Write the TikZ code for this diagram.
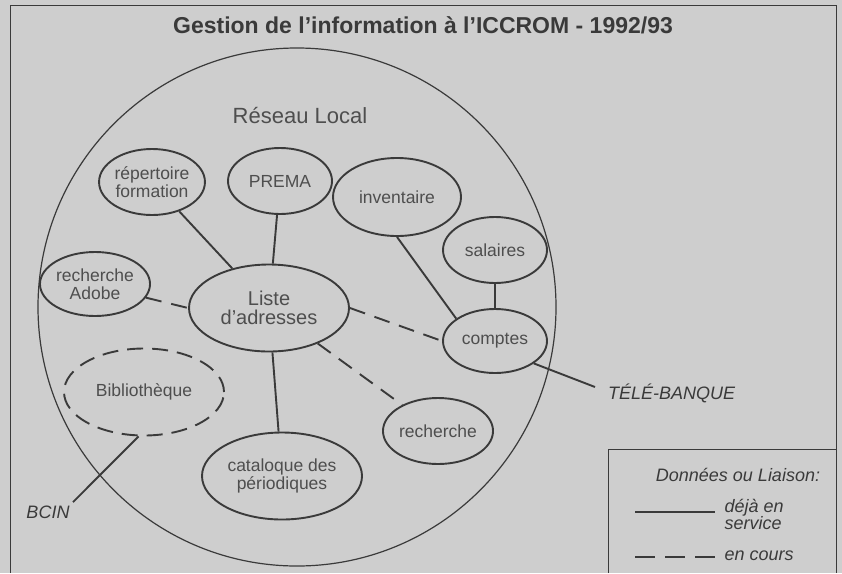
\documentclass[tikz,border=0pt]{standalone}
\usepackage{fontspec}
\setmainfont{Liberation Sans}
\usetikzlibrary{shapes.geometric}
\definecolor{papier}{RGB}{206,206,206}
\definecolor{encre}{RGB}{58,58,58}
\definecolor{texte}{RGB}{78,78,78}
\tikzset{
	base/.style={ellipse, draw=encre, line width=1.9pt, inner sep=0pt, align=center, text=texte, font=\fontsize{17.5}{18}\selectfont},
	petit/.style={base, minimum width=104pt, minimum height=66pt},
	grand/.style={base, minimum width=160pt, minimum height=87pt},
	lien/.style={draw=encre, line width=1.9pt},
	prevu/.style={lien, dash pattern=on 16pt off 10pt},
	etiquette/.style={text=encre, font=\fontsize{18}{17}\selectfont\itshape},
}

\begin{document}
\begin{tikzpicture}[x=1pt, y=-1pt]
	\useasboundingbox (0,0) rectangle (842,573);
	\fill[papier] (0,0) rectangle (842,573);
	\draw[encre, line width=1pt] (10,573) |- (836,5) -- (836,573);
	\node[text=encre, font=\fontsize{23}{26}\selectfont\bfseries] (titre) at (423,25) {Gestion de l'information à l'ICCROM - 1992/93};
	\draw[encre, line width=1.2pt] (297,307) circle [radius=259pt];
	\node[text=texte, font=\fontsize{22}{24}\selectfont] (reseau) at (300,116) {Réseau Local};

	\node[petit] (repform) at (152,182) {répertoire\\formation};
	\node[petit] (prema) at (280,181) {PREMA};
	\node[base, minimum width=128pt, minimum height=78pt] (invent) at (397,197) {inventaire};
	\node[petit] (salaires) at (495,250) {salaires};
	\node[petit, minimum height=64pt] (adobe) at (95,284) {recherche\\Adobe};
	\node[grand, font=\fontsize{20}{19}\selectfont] (liste) at (269,308) {Liste\\d'adresses};
	\node[petit, minimum height=64pt] (comptes) at (495,341) {comptes};
	\node[grand, dash pattern=on 16pt off 9pt] (biblio) at (144,392) {Bibliothèque};
	\node[petit] (recherche) at (438,431) {recherche};
	\node[grand] (catalog) at (282,476) {cataloque des\\périodiques};

	\node[etiquette] (bcin) at (48,512) {BCIN};
	\node[etiquette, anchor=west, inner sep=0pt] (telebanque) at (608,393) {TÉLÉ-BANQUE};
	\coordinate (tbfin) at (595,387);

	\draw[lien] (repform) -- (liste);
	\draw[lien] (prema) -- (liste);
	\draw[lien] (liste) -- (catalog);
	\draw[lien] (invent.south) -- (comptes.150);
	\draw[lien] (salaires) -- (comptes);
	\draw[lien] (comptes.-30) -- (tbfin);
	\draw[lien] (bcin.north east) -- (biblio.-97);
	\draw[prevu] (adobe.-15) -- (liste.west);
	\draw[prevu] (liste.east) -- (comptes.west);
	\draw[prevu] (liste) -- (recherche);

	\draw[encre, line width=1pt] (608,573) |- (836,449);
	\node[etiquette] (legende) at (738,475) {Données ou Liaison:};
	\coordinate (pleinA) at (635,512);
	\coordinate (pleinB) at (715,512);
	\coordinate (tiretA) at (635,557);
	\coordinate (tiretB) at (715,557);
	\draw[lien] (pleinA) -- (pleinB);
	\draw[lien, dash pattern=on 20pt off 10pt] (tiretA) -- (tiretB);
	\node[etiquette, anchor=west, align=left] (deja) at (721,514) {déjà en\\service};
	\node[etiquette, anchor=west] (encours) at (721,556) {en cours};
\end{tikzpicture}
\end{document}
